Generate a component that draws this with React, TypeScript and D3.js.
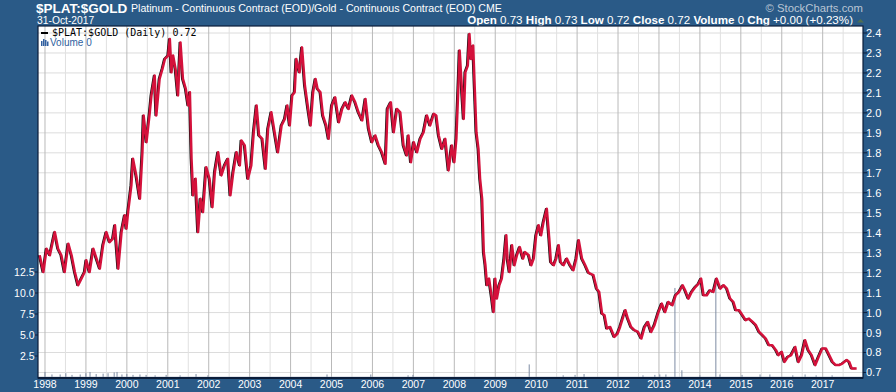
import { useEffect } from "react";
import * as d3 from "d3";

// Platinum / Gold ratio as [decimal year, ratio]
const ratio1998to2004: [number, number][] = [
  [1997.87, 1.287], [1997.96, 1.203], [1998.04, 1.32], [1998.12, 1.287], [1998.24, 1.403],
  [1998.32, 1.32], [1998.4, 1.287], [1998.48, 1.203], [1998.57, 1.345], [1998.65, 1.287],
  [1998.73, 1.203], [1998.81, 1.137], [1998.89, 1.17], [1998.97, 1.203], [1999.01, 1.262],
  [1999.09, 1.203], [1999.18, 1.32], [1999.26, 1.27], [1999.34, 1.22], [1999.42, 1.337],
  [1999.5, 1.403], [1999.58, 1.353], [1999.66, 1.37], [1999.71, 1.437], [1999.79, 1.22],
  [1999.87, 1.403], [1999.95, 1.487], [1999.99, 1.42], [2000.03, 1.503], [2000.11, 1.637],
  [2000.15, 1.77], [2000.23, 1.687], [2000.32, 1.57], [2000.38, 1.803], [2000.41, 1.987],
  [2000.48, 1.853], [2000.56, 2.003], [2000.6, 2.087], [2000.68, 2.187], [2000.72, 1.987],
  [2000.8, 2.17], [2000.87, 2.22], [2000.93, 2.27], [2001.01, 2.287], [2001.05, 2.37],
  [2001.09, 2.203], [2001.13, 2.287], [2001.19, 2.22], [2001.25, 2.087], [2001.31, 2.353],
  [2001.37, 2.17], [2001.44, 2.12], [2001.5, 2.037], [2001.54, 2.103], [2001.58, 1.77],
  [2001.62, 1.587], [2001.68, 1.67], [2001.74, 1.403], [2001.8, 1.57], [2001.86, 1.503],
  [2001.94, 1.728], [2002.02, 1.67], [2002.09, 1.528], [2002.15, 1.703], [2002.23, 1.803],
  [2002.31, 1.687], [2002.39, 1.737], [2002.47, 1.77], [2002.53, 1.587], [2002.6, 1.703],
  [2002.68, 1.803], [2002.76, 1.737], [2002.8, 1.862], [2002.88, 1.837], [2002.96, 1.67],
  [2003.04, 1.737], [2003.1, 1.903], [2003.17, 2.037], [2003.23, 1.887], [2003.31, 1.87],
  [2003.39, 1.72], [2003.45, 1.92], [2003.53, 2.003], [2003.61, 1.903], [2003.69, 1.803],
  [2003.78, 1.937], [2003.86, 1.97], [2003.92, 2.037], [2003.98, 1.937], [2004.04, 2.087],
  [2004.1, 2.103], [2004.14, 2.27], [2004.22, 2.203], [2004.28, 2.328], [2004.35, 2.137],
  [2004.43, 2.02], [2004.49, 1.937],
];

const ratio2004to2011: [number, number][] = [
  [2004.55, 2.103], [2004.61, 2.17], [2004.66, 2.12], [2004.73, 2.103], [2004.79, 1.987],
  [2004.87, 1.937], [2004.93, 1.87], [2005.01, 2.037], [2005.09, 2.078], [2005.18, 1.953],
  [2005.26, 2.02], [2005.34, 2.053], [2005.42, 2.02], [2005.5, 2.087], [2005.58, 2.053],
  [2005.66, 2.003], [2005.75, 1.962], [2005.83, 2.07], [2005.91, 1.92], [2005.99, 1.853],
  [2006.07, 1.887], [2006.15, 1.837], [2006.23, 1.803], [2006.32, 1.745], [2006.37, 2.02],
  [2006.45, 2.053], [2006.52, 1.903], [2006.6, 2.02], [2006.68, 2.003], [2006.76, 1.837],
  [2006.84, 1.787], [2006.88, 1.887], [2006.94, 1.753], [2007.01, 1.853], [2007.09, 1.803],
  [2007.17, 1.87], [2007.25, 1.903], [2007.33, 1.987], [2007.41, 1.937], [2007.5, 1.995],
  [2007.56, 1.987], [2007.62, 1.887], [2007.7, 1.82], [2007.78, 1.87], [2007.86, 1.712],
  [2007.94, 1.837], [2008.0, 1.753], [2008.05, 1.87], [2008.11, 2.187], [2008.13, 2.312],
  [2008.19, 2.103], [2008.23, 1.97], [2008.27, 2.203], [2008.33, 2.237], [2008.37, 2.395],
  [2008.41, 2.27], [2008.46, 2.337], [2008.5, 2.12], [2008.54, 1.903], [2008.59, 1.82],
  [2008.63, 1.67], [2008.68, 1.57], [2008.72, 1.303], [2008.76, 1.237], [2008.8, 1.137],
  [2008.85, 1.17], [2008.92, 1.07], [2008.96, 1.003], [2009.0, 1.17], [2009.04, 1.07],
  [2009.1, 1.137], [2009.16, 1.17], [2009.22, 1.27], [2009.27, 1.387], [2009.3, 1.27],
  [2009.35, 1.203], [2009.41, 1.337], [2009.47, 1.237], [2009.53, 1.287], [2009.6, 1.328],
  [2009.68, 1.27], [2009.73, 1.303], [2009.82, 1.287], [2009.88, 1.237], [2009.94, 1.27],
  [2010.0, 1.387], [2010.06, 1.437], [2010.12, 1.387], [2010.18, 1.453], [2010.26, 1.52],
  [2010.32, 1.37], [2010.36, 1.253], [2010.43, 1.237], [2010.49, 1.27], [2010.55, 1.337],
  [2010.6, 1.253], [2010.67, 1.237], [2010.75, 1.27], [2010.83, 1.237], [2010.91, 1.212],
  [2010.98, 1.27], [2011.04, 1.362], [2011.12, 1.27], [2011.2, 1.237],
];

const ratio2011to2017: [number, number][] = [
  [2011.28, 1.2], [2011.32, 1.195], [2011.4, 1.187], [2011.48, 1.12], [2011.54, 1.103],
  [2011.61, 0.995], [2011.67, 0.987], [2011.73, 0.92], [2011.81, 0.928], [2011.91, 0.878],
  [2011.99, 0.895], [2012.05, 0.928], [2012.14, 0.987], [2012.18, 1.012], [2012.24, 0.97],
  [2012.32, 0.928], [2012.4, 0.912], [2012.49, 0.903], [2012.57, 0.87], [2012.65, 0.928],
  [2012.73, 0.953], [2012.81, 0.903], [2012.89, 0.937], [2012.99, 1.003], [2013.07, 1.045],
  [2013.15, 1.003], [2013.23, 1.053], [2013.33, 1.037], [2013.41, 1.087], [2013.49, 1.103],
  [2013.58, 1.137], [2013.64, 1.112], [2013.72, 1.07], [2013.8, 1.103], [2013.89, 1.128],
  [2013.97, 1.145], [2014.03, 1.17], [2014.09, 1.087], [2014.17, 1.087], [2014.25, 1.112],
  [2014.33, 1.103], [2014.41, 1.17], [2014.5, 1.12], [2014.58, 1.137], [2014.66, 1.12],
  [2014.74, 1.07], [2014.82, 1.053], [2014.88, 1.012], [2014.96, 1.012], [2015.04, 0.987],
  [2015.12, 0.962], [2015.2, 0.97], [2015.29, 0.953], [2015.37, 0.937], [2015.45, 0.903],
  [2015.53, 0.887], [2015.61, 0.87], [2015.69, 0.837], [2015.77, 0.837], [2015.86, 0.812],
  [2015.92, 0.787], [2016.0, 0.803], [2016.07, 0.753], [2016.15, 0.778], [2016.23, 0.787],
  [2016.33, 0.828], [2016.41, 0.753], [2016.49, 0.787], [2016.57, 0.862], [2016.65, 0.812],
  [2016.73, 0.787], [2016.82, 0.737], [2016.9, 0.778], [2016.99, 0.82], [2017.08, 0.82],
  [2017.16, 0.787], [2017.24, 0.753], [2017.32, 0.737], [2017.4, 0.737], [2017.48, 0.745],
  [2017.59, 0.762], [2017.65, 0.753], [2017.71, 0.72], [2017.83, 0.72],
];

const volumeBars: [number, number][] = [
  [1998.0, 0.6], [1998.17, 0.3], [1998.37, 0.3], [1998.51, 0.45], [1998.66, 0.25],
  [1998.86, 0.3], [1999.0, 0.45], [1999.1, 0.6], [1999.25, 0.35], [1999.42, 0.4],
  [1999.54, 0.45], [1999.69, 0.55], [1999.76, 0.6], [1999.88, 0.3], [2000.0, 0.35],
  [2000.15, 0.25], [2000.32, 0.3], [2000.47, 0.25], [2000.69, 0.2], [2000.96, 0.25],
  [2001.3, 0.2], [2001.69, 0.35], [2001.98, 0.2], [2004.89, 0.3], [2005.96, 0.3],
  [2006.87, 0.2], [2006.99, 0.25], [2009.83, 1.5], [2010.66, 0.2], [2010.95, 0.25],
  [2011.17, 0.35], [2012.61, 0.2], [2012.9, 0.25], [2013.02, 0.3], [2013.17, 0.3],
  [2013.39, 10.6], [2013.56, 0.8], [2014.0, 0.2], [2014.39, 11.4], [2014.49, 0.3],
  [2015.03, 0.25], [2015.47, 0.3], [2015.71, 0.3], [2016.27, 0.2], [2016.57, 0.3],
  [2016.84, 0.2], [2017.23, 0.2],
];

const yearTicks = d3.range(1998, 2018);
const ratioTicks = d3.range(7, 25).map((d) => d / 10);
const volumeTicks = [2.5, 5, 7.5, 10, 12.5];

const BG = "#2a5a87";
const RED = "#d4113b";
const FRAME = "#0b1d3a";
const FONT = "'Liberation Sans', Arial, sans-serif";

const left = 38;
const right = 863;
const top = 26;
const bottom = 378;

export default function App() {
  useEffect(() => {
    document.body.style.margin = "0";
  }, []);

  const x = d3.scaleLinear().domain([1997.829, 2017.985]).range([left, right]);
  const y = d3.scaleLinear().domain([0.7, 2.4]).range([372.5, 33]);
  const yVol = d3.scaleLinear().domain([0, 12.5]).range([377, 272]);

  const series = [...ratio1998to2004, ...ratio2004to2011, ...ratio2011to2017];
  const line = d3
    .line<[number, number]>()
    .x((d) => x(d[0]))
    .y((d) => y(d[1]));
  const path = line(series) || "";

  const halfYears = d3.range(1998, 2018, 0.5);

  return (
    <svg width={896} height={392} style={{ display: "block" }} fontFamily={FONT}>
      <rect x={0} y={0} width={896} height={392} fill={BG} />

      {/* header */}
      <text x={36} y={12.5} fill="#fff" fontSize={13.5} fontWeight="bold">$PLAT:$GOLD</text>
      <text x={131} y={11.5} fill="#fff" fontSize={10.6}>
        Platinum - Continuous Contract (EOD)/Gold - Continuous Contract (EOD) CME
      </text>
      <text x={37} y={23.5} fill="#fff" fontSize={10.3}>31-Oct-2017</text>
      <text x={863} y={11.5} fill="#b9c5d4" fontSize={11.3} textAnchor="end">© StockCharts.com</text>
      <text x={853} y={23.5} fill="#fff" fontSize={11.6} textAnchor="end">
        <tspan fontWeight="bold">Open</tspan> 0.73 <tspan fontWeight="bold">High</tspan> 0.73{" "}
        <tspan fontWeight="bold">Low</tspan> 0.72 <tspan fontWeight="bold">Close</tspan> 0.72{" "}
        <tspan fontWeight="bold">Volume</tspan> 0 <tspan fontWeight="bold">Chg</tspan> +0.00 (+0.23%)
      </text>
      <path d="M857,22.5 L864,22.5 L860.5,19 Z" fill="#4f6e52" />

      {/* plot */}
      <rect x={left} y={top} width={right - left} height={bottom - top} fill="#fff" />
      <clipPath id="plotClip">
        <rect x={left} y={top} width={right - left} height={bottom - top} />
      </clipPath>

      {ratioTicks.map((t) => (
        <line key={"h" + t} x1={left} x2={right} y1={y(t)} y2={y(t)} stroke="#dcdcdc" strokeWidth={1} />
      ))}
      {halfYears.map((t) => (
        <line
          key={"v" + t}
          x1={x(t)}
          x2={x(t)}
          y1={top}
          y2={bottom}
          stroke={Number.isInteger(t) ? "#b9b9b9" : "#e0e0e0"}
          strokeWidth={1}
        />
      ))}

      <g clipPath="url(#plotClip)">
        {volumeBars.map(([t, v]) => (
          <line key={"vol" + t} x1={x(t)} x2={x(t)} y1={yVol(0)} y2={yVol(v)} stroke="#7d8ca3" strokeWidth={1} />
        ))}
        <line x1={left} x2={right} y1={yVol(0)} y2={yVol(0)} stroke="#9aa6b8" strokeWidth={0.6} />
        <path d={path} fill="none" stroke="#111" strokeWidth={1.4} transform="translate(-1.2,0)" strokeLinejoin="round" />
        <path d={path} fill="none" stroke={RED} strokeWidth={2.5} strokeLinejoin="round" />
      </g>

      <rect x={left} y={top} width={right - left} height={bottom - top} fill="none" stroke={FRAME} strokeWidth={1.2} />
      <line x1={left} x2={right} y1={bottom} y2={bottom} stroke={FRAME} strokeWidth={2} />

      {/* legend */}
      <rect x={41} y={32} width={7} height={2} fill="#000" />
      <text x={52} y={36} fill="#000" fontSize={10} fontFamily="'DejaVu Sans Mono', monospace">
        $PLAT:$GOLD (Daily) 0.72
      </text>
      <g fill="#2f5fa0">
        <rect x={41} y={41} width={1.5} height={5} />
        <rect x={43} y={39} width={1.5} height={7} />
        <rect x={45} y={40} width={1.5} height={6} />
        <rect x={47} y={41.5} width={1.5} height={4.5} />
      </g>
      <text x={50} y={46} fill="#2f5fa0" fontSize={10}>Volume 0</text>

      {/* right axis */}
      {ratioTicks.map((t) => (
        <g key={"r" + t}>
          <line x1={right} x2={right + 4} y1={y(t)} y2={y(t)} stroke={FRAME} />
          <text x={right + 3} y={y(t)} dy="0.36em" fill="#fff" fontSize={11}>
            {d3.format(".1f")(t)}
          </text>
        </g>
      ))}

      {/* left volume axis */}
      {volumeTicks.map((t) => (
        <g key={"l" + t}>
          <line x1={left - 3} x2={left} y1={yVol(t)} y2={yVol(t)} stroke={FRAME} />
          <text x={left - 3.5} y={yVol(t)} dy="0.36em" fill="#fff" fontSize={10.5} textAnchor="end">
            {d3.format(".1f")(t)}
          </text>
        </g>
      ))}

      {/* bottom axis */}
      {yearTicks.map((t) => (
        <text key={"x" + t} x={x(t)} y={388} fill="#fff" fontSize={10.5} textAnchor="middle">
          {t}
        </text>
      ))}
    </svg>
  );
}
